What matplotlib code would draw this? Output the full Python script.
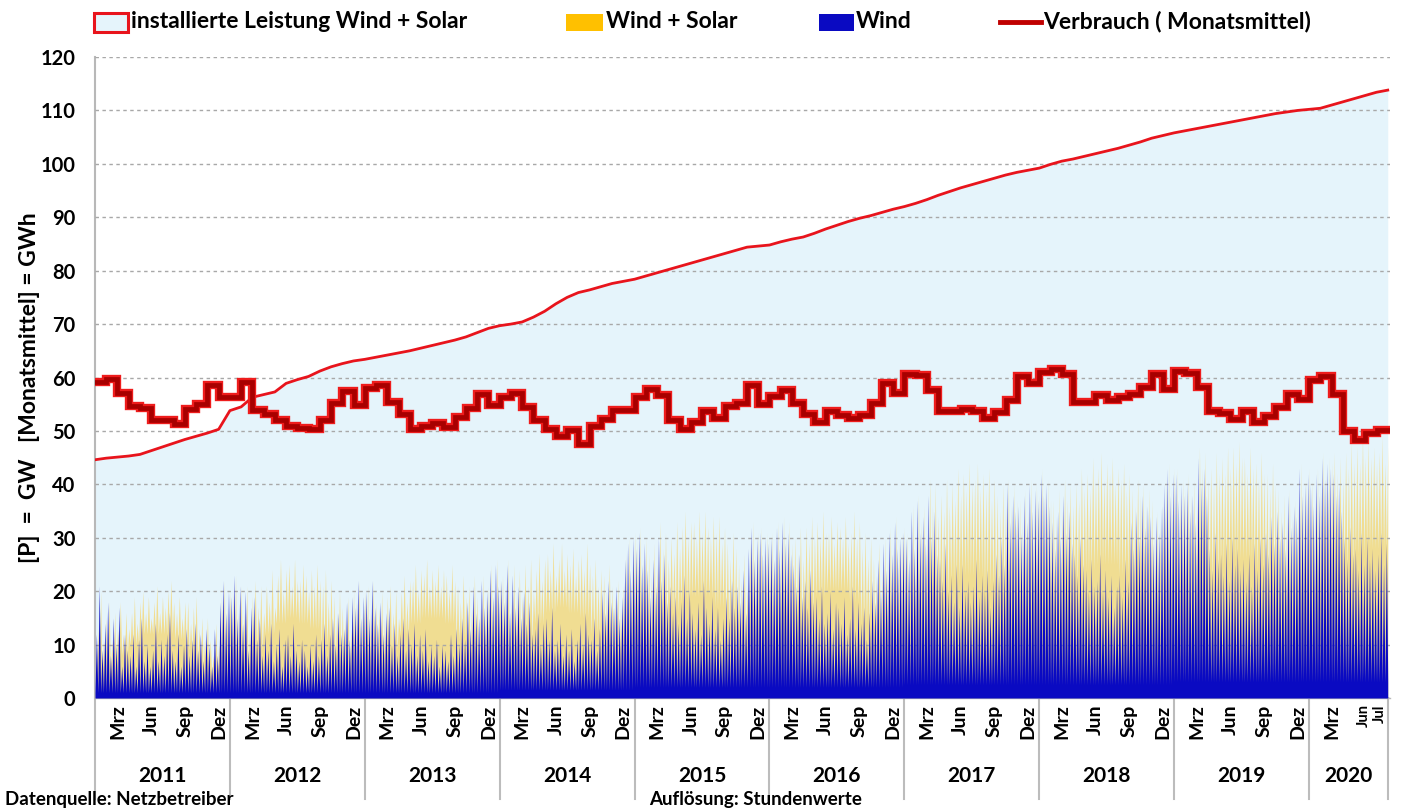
import numpy as np
import matplotlib
matplotlib.use("Agg")
import matplotlib.pyplot as plt
from matplotlib.patches import Rectangle
from matplotlib.lines import Line2D

plt.rcParams['font.family'] = ['Lato', 'DejaVu Sans']
plt.rcParams['font.weight'] = 'bold'

# ---------------- data ----------------
years = [2011, 2012, 2013, 2014, 2015, 2016, 2017, 2018, 2019, 2020]
months_per_year = [12, 12, 12, 12, 12, 12, 12, 12, 12, 7]
month_tick_labels = {2: 'Mrz', 5: 'Jun', 8: 'Sep', 11: 'Dez'}
month_tick_labels_2020 = {2: 'Mrz', 5: 'Jun', 6: 'Jul'}

# consumption, monthly mean (GW) Jan 2011 .. Jul 2020
verbrauch_2011 = [59.2, 59.8, 57.1, 54.6, 54.3, 52.1, 52.0, 51.3, 54.1, 55.1, 58.6, 56.4]
verbrauch_2012 = [56.4, 59.2, 54.0, 53.1, 52.1, 51.0, 50.6, 50.3, 52.1, 55.2, 57.4, 54.9]
verbrauch_2013 = [58.0, 58.6, 55.5, 53.1, 50.3, 51.0, 51.4, 50.8, 52.6, 54.3, 56.9, 54.9]
verbrauch_2014 = [56.3, 57.1, 54.4, 52.1, 50.3, 49.1, 50.1, 47.5, 50.9, 52.3, 53.9, 53.9]
verbrauch_2015 = [56.3, 57.8, 56.7, 52.1, 50.4, 51.7, 53.7, 52.5, 54.6, 55.2, 58.6, 55.1]
verbrauch_2016 = [56.6, 57.7, 55.3, 53.1, 51.7, 53.7, 52.9, 52.5, 52.9, 55.2, 58.9, 57.1]
verbrauch_2017 = [60.7, 60.4, 57.7, 53.7, 53.7, 54.1, 53.7, 52.5, 53.5, 55.7, 60.3, 59.0]
verbrauch_2018 = [61.0, 61.5, 60.7, 55.5, 55.5, 56.7, 55.7, 56.3, 56.9, 58.2, 60.6, 57.9]
verbrauch_2019 = [61.3, 60.9, 58.2, 53.8, 53.4, 52.3, 53.8, 51.6, 52.8, 54.4, 56.9, 55.9]
verbrauch_2020 = [59.5, 60.3, 56.9, 50.0, 48.3, 49.7, 50.2]

# installed capacity wind + solar at month start (GW), last value = end of Jul 2020
installed_2011 = [44.6, 44.9, 45.1, 45.3, 45.6, 46.3, 47.0, 47.7, 48.4, 49.0, 49.6, 50.3]
installed_2012 = [53.8, 54.5, 56.3, 56.8, 57.3, 58.9, 59.6, 60.2, 61.2, 62.0, 62.6, 63.1]
installed_2013 = [63.4, 63.8, 64.2, 64.6, 65.0, 65.5, 66.0, 66.5, 67.0, 67.6, 68.4, 69.2]
installed_2014 = [69.7, 70.0, 70.4, 71.3, 72.4, 73.8, 75.0, 75.9, 76.4, 77.0, 77.6, 78.0]
installed_2015 = [78.4, 79.0, 79.6, 80.2, 80.8, 81.4, 82.0, 82.6, 83.2, 83.8, 84.4, 84.6]
installed_2016 = [84.8, 85.4, 85.9, 86.3, 87.0, 87.8, 88.5, 89.2, 89.8, 90.3, 90.9, 91.5]
installed_2017 = [92.0, 92.6, 93.3, 94.1, 94.8, 95.5, 96.1, 96.7, 97.3, 97.9, 98.4, 98.8]
installed_2018 = [99.2, 99.9, 100.5, 100.9, 101.4, 101.9, 102.4, 102.9, 103.5, 104.1, 104.8, 105.3]
installed_2019 = [105.8, 106.2, 106.6, 107.0, 107.4, 107.8, 108.2, 108.6, 109.0, 109.4, 109.7, 110.0]
installed_2020 = [110.2, 110.4, 111.0, 111.6, 112.2, 112.8, 113.4, 113.8]

# weekly peak wind feed-in (GW), 4 per month
wind_2011 = [12, 21, 9, 14, 18, 8, 15, 10, 17, 6, 12, 9, 8, 12, 6, 11, 15, 7, 10, 6, 9, 14, 7, 11,
             8, 12, 16, 9, 7, 12, 6, 10, 13, 8, 11, 14, 9, 12, 7, 13, 10, 6, 13, 8, 18, 22, 16, 20]
wind_2012 = [19, 23, 15, 21, 14, 20, 9, 17, 19, 11, 15, 8, 12, 9, 14, 7, 10, 13, 6, 11, 12, 8, 14, 9,
             7, 11, 9, 6, 10, 7, 12, 8, 11, 14, 8, 12, 15, 10, 16, 12, 13, 18, 11, 19, 17, 22, 15, 19]
wind_2013 = [20, 15, 22, 17, 14, 18, 12, 16, 17, 10, 14, 8, 12, 15, 9, 13, 10, 14, 8, 12, 9, 13, 7, 10,
             8, 11, 6, 10, 9, 7, 12, 8, 13, 10, 15, 11, 18, 13, 21, 16, 15, 22, 17, 20, 24, 19, 25, 21]
wind_2014 = [22, 18, 25, 16, 23, 17, 21, 15, 20, 14, 18, 12, 13, 16, 10, 14, 15, 11, 17, 9, 11, 14, 8, 12,
             9, 13, 7, 11, 14, 10, 16, 12, 11, 15, 9, 13, 20, 16, 22, 18, 17, 21, 15, 19, 26, 29, 24, 30]
wind_2015 = [28, 31, 25, 29, 24, 19, 26, 21, 30, 22, 27, 18, 21, 16, 19, 14, 18, 23, 15, 20, 16, 13, 18, 12,
             22, 17, 14, 19, 13, 17, 11, 15, 19, 15, 22, 17, 21, 18, 24, 16, 28, 32, 26, 30, 31, 27, 30, 29]
wind_2016 = [30, 26, 32, 28, 33, 29, 31, 27, 25, 21, 27, 19, 22, 17, 24, 18, 19, 15, 21, 14, 16, 20, 13, 18,
             17, 14, 19, 12, 15, 21, 13, 18, 14, 17, 11, 16, 22, 18, 26, 20, 29, 24, 31, 27, 33, 28, 30, 31]
wind_2017 = [30, 26, 35, 28, 37, 31, 34, 29, 38, 30, 35, 27, 26, 22, 29, 20, 23, 18, 25, 17, 25, 20, 22, 18,
             21, 26, 19, 23, 20, 24, 17, 22, 27, 23, 30, 25, 40, 33, 38, 35, 36, 31, 38, 33, 40, 35, 39, 37]
wind_2018 = [42, 38, 40, 36, 33, 28, 35, 30, 38, 31, 35, 29, 27, 23, 30, 25, 24, 20, 26, 21, 22, 27, 20, 24,
             19, 23, 17, 21, 23, 19, 26, 22, 33, 28, 35, 30, 38, 32, 36, 34, 29, 34, 31, 36, 40, 43, 38, 42]
wind_2019 = [42, 37, 40, 38, 40, 35, 38, 33, 45, 40, 43, 38, 28, 24, 31, 26, 27, 23, 29, 22, 30, 25, 28, 24,
             26, 22, 27, 21, 29, 24, 30, 25, 31, 27, 34, 29, 35, 30, 33, 28, 38, 32, 36, 34, 43, 38, 40, 42]
wind_2020 = [40, 36, 42, 38, 45, 41, 44, 43, 42, 38, 40, 35, 30, 26, 32, 27, 28, 24, 31, 25, 30, 26, 28, 24,
             27, 31, 25, 29]

# weekly peak wind + solar feed-in (GW), 4 per month
ws_2011 = [13, 20, 11, 15, 18, 11, 16, 13, 18, 12, 16, 13, 16, 19, 14, 18, 20, 16, 19, 15, 18, 21, 16, 19,
           17, 20, 22, 18, 16, 19, 15, 18, 18, 14, 17, 19, 13, 15, 11, 15, 11, 8, 14, 10, 19, 22, 17, 20]
ws_2012 = [20, 23, 16, 21, 16, 21, 13, 19, 22, 17, 21, 16, 21, 18, 24, 17, 23, 26, 20, 24, 25, 21, 26, 22,
           22, 25, 23, 20, 24, 21, 25, 22, 21, 24, 18, 22, 19, 16, 20, 17, 15, 19, 13, 20, 18, 22, 16, 20]
ws_2013 = [21, 16, 22, 18, 17, 20, 15, 19, 21, 16, 20, 15, 20, 23, 18, 22, 22, 25, 20, 24, 23, 26, 21, 24,
           22, 25, 21, 24, 23, 20, 25, 22, 21, 18, 23, 19, 21, 17, 23, 19, 17, 23, 19, 21, 25, 20, 26, 22]
ws_2014 = [23, 20, 26, 18, 25, 20, 24, 19, 25, 21, 26, 20, 24, 27, 22, 26, 27, 24, 29, 23, 26, 29, 24, 27,
           25, 28, 23, 26, 27, 24, 29, 25, 23, 26, 21, 24, 23, 20, 25, 21, 19, 22, 17, 21, 27, 30, 25, 31]
ws_2015 = [29, 32, 26, 30, 27, 23, 29, 25, 33, 28, 31, 26, 30, 27, 33, 28, 32, 35, 30, 33, 33, 30, 35, 31,
           35, 32, 30, 34, 31, 34, 29, 32, 29, 26, 31, 28, 25, 22, 27, 21, 29, 33, 27, 31, 32, 28, 31, 30]
ws_2016 = [31, 27, 33, 29, 34, 30, 33, 29, 30, 27, 32, 26, 32, 29, 34, 30, 33, 30, 35, 31, 31, 34, 29, 33,
           32, 30, 34, 29, 31, 35, 30, 33, 28, 31, 26, 30, 26, 23, 29, 24, 30, 26, 32, 28, 34, 29, 31, 32]
ws_2017 = [31, 28, 36, 30, 38, 33, 36, 31, 41, 36, 40, 34, 38, 35, 41, 36, 40, 37, 43, 38, 42, 39, 44, 40,
           41, 44, 39, 42, 39, 43, 37, 41, 38, 35, 40, 36, 41, 36, 40, 37, 37, 33, 39, 35, 41, 36, 40, 38]
ws_2018 = [43, 39, 41, 37, 37, 34, 39, 35, 41, 37, 40, 36, 40, 37, 43, 39, 42, 39, 45, 41, 43, 46, 41, 44,
           42, 45, 40, 43, 41, 44, 39, 42, 39, 36, 41, 38, 40, 36, 39, 37, 31, 35, 33, 37, 41, 44, 39, 43]
ws_2019 = [43, 38, 41, 39, 42, 38, 41, 37, 47, 43, 46, 41, 43, 40, 46, 42, 45, 42, 47, 43, 47, 44, 48, 45,
           45, 42, 47, 43, 44, 41, 46, 42, 42, 39, 44, 40, 39, 35, 38, 34, 39, 34, 37, 36, 44, 39, 41, 43]
ws_2020 = [41, 37, 43, 39, 46, 42, 45, 44, 46, 42, 45, 41, 46, 43, 48, 44, 47, 44, 49, 45, 48, 45, 47, 44,
           46, 49, 44, 47]

# height of the dense wind + solar haze between the peaks (GW), per month
haze_2011 = [3, 5, 8, 10, 12, 12, 12, 11, 9, 6, 4, 3]
haze_2012 = [3, 5, 9, 12, 14, 15, 14, 13, 10, 7, 4, 3]
haze_2013 = [3, 5, 9, 12, 14, 15, 15, 14, 11, 7, 4, 3]
haze_2014 = [4, 6, 11, 14, 16, 17, 16, 15, 12, 8, 5, 4]
haze_2015 = [4, 7, 12, 16, 18, 19, 19, 17, 14, 9, 5, 4]
haze_2016 = [4, 7, 12, 16, 19, 20, 20, 18, 14, 9, 5, 4]
haze_2017 = [5, 8, 14, 19, 22, 23, 23, 21, 17, 11, 6, 5]
haze_2018 = [5, 9, 16, 21, 24, 25, 25, 23, 18, 12, 6, 5]
haze_2019 = [5, 9, 16, 22, 25, 26, 26, 24, 19, 12, 7, 5]
haze_2020 = [6, 10, 18, 24, 27, 28, 28]

# level of the dense wind base (GW), per year
wind_base_year = [1.0, 1.0, 1.0, 1.5, 2.0, 2.0, 2.5, 2.5, 3.0, 3.0]

# ---------------- assemble ----------------
verbrauch = np.array(verbrauch_2011 + verbrauch_2012 + verbrauch_2013 + verbrauch_2014 + verbrauch_2015 +
                     verbrauch_2016 + verbrauch_2017 + verbrauch_2018 + verbrauch_2019 + verbrauch_2020)
installed = np.array(installed_2011 + installed_2012 + installed_2013 + installed_2014 + installed_2015 +
                     installed_2016 + installed_2017 + installed_2018 + installed_2019 + installed_2020)
wind = np.array(wind_2011 + wind_2012 + wind_2013 + wind_2014 + wind_2015 +
                wind_2016 + wind_2017 + wind_2018 + wind_2019 + wind_2020, float)
ws = np.array(ws_2011 + ws_2012 + ws_2013 + ws_2014 + ws_2015 +
              ws_2016 + ws_2017 + ws_2018 + ws_2019 + ws_2020, float)
haze = np.array(haze_2011 + haze_2012 + haze_2013 + haze_2014 + haze_2015 +
                haze_2016 + haze_2017 + haze_2018 + haze_2019 + haze_2020, float)

n_months = len(verbrauch)
month_x = np.arange(n_months + 1)
base = np.repeat(wind_base_year, [4 * m for m in months_per_year])
haze_w = np.repeat(haze, 4)
wk = np.arange(len(wind)) / 4.0

# blue teeth: valley at week start, peak in week middle
bx = np.empty(2 * len(wk) + 1); by = np.empty(2 * len(wk) + 1)
bx[0:-1:2] = wk; by[0:-1:2] = base
bx[1::2] = wk + 0.125; by[1::2] = wind
bx[-1] = n_months; by[-1] = base[-1]
# yellow teeth: shifted half a week, valleys on the haze level
yx = np.empty(2 * len(wk) + 1); yy = np.empty(2 * len(wk) + 1)
yx[0] = 0; yy[0] = haze_w[0]
yx[1::2] = wk + 0.125; yy[1::2] = haze_w
yx[2::2] = wk + 0.25; yy[2::2] = ws

# ---------------- figure ----------------
fig = plt.figure(figsize=(14.04, 8.10), dpi=100)
ax = fig.add_axes([95 / 1404, 1 - 698 / 810, (1390 - 95) / 1404, (698 - 57) / 810])

ax.set_xlim(0, n_months + 0.2)
ax.set_ylim(0, 120)

light_blue = '#e5f4fb'
ax.fill_between(month_x, 0, installed, color=light_blue, lw=0, zorder=1)
ax.plot(month_x, installed, color='#e8141c', lw=2.0, zorder=6)

ax.fill_between(yx, 0, yy, color='#f4d878', alpha=0.8, lw=0, zorder=2)
ax.fill_between(bx, 0, by, color='#0a0ac2', lw=0, zorder=3)

vx = month_x
vy = np.append(verbrauch, verbrauch[-1])
ax.step(vx, vy, where='post', color='#ee1c1c', lw=6.0, zorder=7, solid_joinstyle='miter')
ax.step(vx, vy, where='post', color='#a80000', lw=3.4, zorder=8, solid_joinstyle='miter')

ax.set_yticks(np.arange(0, 121, 10))
ax.yaxis.grid(True, color='#a8a8a8', linestyle=(0, (2.5, 2.5)), lw=1.0)
ax.set_axisbelow(False)
for gl in ax.get_ygridlines():
    gl.set_zorder(4)
ax.tick_params(axis='y', length=0, pad=14, labelsize=14.5)
for lab in ax.get_yticklabels():
    lab.set_fontweight('bold')
ax.set_xticks([])
for s in ['top', 'right']:
    ax.spines[s].set_visible(False)
ax.spines['left'].set_color('#b8b8b8')
ax.spines['left'].set_linewidth(1.5)
ax.spines['bottom'].set_color('#b8b8b8')
ax.spines['bottom'].set_linewidth(1.0)

xt = ax.get_xaxis_transform()
# month labels
m0 = 0
for yr, nm in zip(years, months_per_year):
    if yr == 2020:
        labs = month_tick_labels_2020
    else:
        labs = month_tick_labels
    for mi, txt in labs.items():
        fs = 14
        xpos = m0 + mi
        if yr == 2020 and mi in (5, 6):
            fs = 10.5
            xpos = m0 + mi + (-0.1 if mi == 5 else 0.3)
        ax.text(xpos, -0.010, txt, transform=xt, rotation=90, ha='center', va='top',
                fontsize=fs, fontweight='bold', clip_on=False)
    ax.text(m0 + nm / 2, -0.121, str(yr), transform=xt, ha='center', va='center',
            fontsize=15, fontweight='bold', clip_on=False)
    m0 += nm
# year separators
for xb in list(np.cumsum([0] + months_per_year)):
    ax.add_line(Line2D([xb, xb], [0, -0.158], transform=xt, color='#bcbcbc', lw=1.5, clip_on=False))

# y label
fig.text(30 / 1404, 1 - 388 / 810, '[P]  =  GW   [Monatsmittel] = GWh', rotation=90,
         ha='center', va='center', fontsize=16.5, fontweight='bold')

# bottom notes
fig.text(5 / 1404, 1 - 800 / 810, 'Datenquelle: Netzbetreiber', ha='left', va='center',
         fontsize=13.5, fontweight='bold')
fig.text(756 / 1404, 1 - 800 / 810, 'Auflösung: Stundenwerte', ha='center', va='center',
         fontsize=13.5, fontweight='bold')

# legend (manual, figure pixel positions)
def fx(px):
    return px / 1404
def fy(py):
    return 1 - py / 810

ly = 22
lfs = 16.5
fig.patches.append(Rectangle((fx(94), fy(32)), fx(128) - fx(94), fy(13) - fy(32), transform=fig.transFigure,
                             facecolor=light_blue, edgecolor='#e8141c', lw=2.2))
fig.text(fx(131), fy(ly), 'installierte Leistung Wind + Solar', ha='left', va='center', fontsize=lfs, fontweight='bold')
fig.patches.append(Rectangle((fx(566), fy(31)), fx(603) - fx(566), fy(14) - fy(31), transform=fig.transFigure,
                             facecolor='#ffc000', edgecolor='none'))
fig.text(fx(606), fy(ly), 'Wind + Solar', ha='left', va='center', fontsize=lfs, fontweight='bold')
fig.patches.append(Rectangle((fx(819), fy(31)), fx(854) - fx(819), fy(14) - fy(31), transform=fig.transFigure,
                             facecolor='#0a0ac2', edgecolor='none'))
fig.text(fx(856), fy(ly), 'Wind', ha='left', va='center', fontsize=lfs, fontweight='bold')
fig.lines.append(Line2D([fx(1000), fx(1041)], [fy(ly), fy(ly)], transform=fig.transFigure,
                        color='#c00000', lw=3.5))
fig.text(fx(1043), fy(ly), 'Verbrauch ( Monatsmittel)', ha='left', va='center', fontsize=lfs, fontweight='bold')

fig.savefig('out.png', dpi=100, facecolor='white')
